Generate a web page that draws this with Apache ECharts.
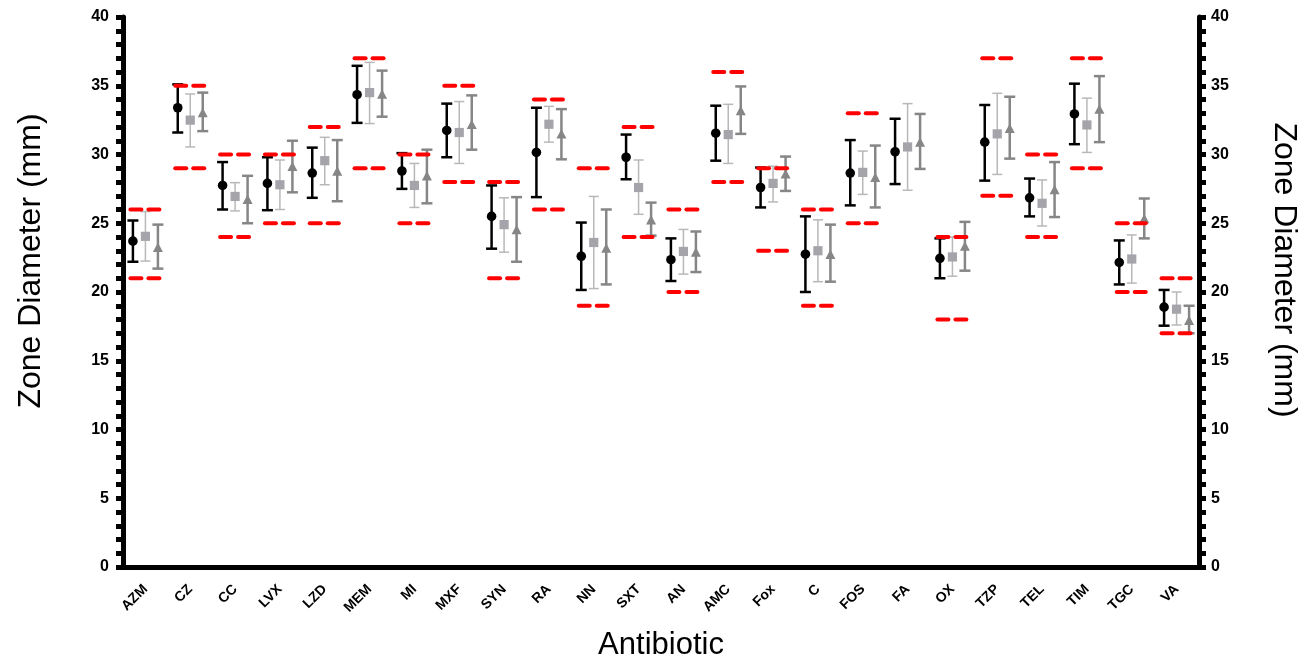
<!DOCTYPE html>
<html>
<head>
<meta charset="utf-8">
<script src="https://cdn.jsdelivr.net/npm/echarts@6/dist/echarts.min.js"></script>
<style>
  html, body { margin: 0; padding: 0; background: #fff; }
  #chart { width: 1308px; height: 666px; }
</style>
</head>
<body>
<div id="chart"></div>
<script type="text/javascript">
    var categories = ['AZM', 'CZ', 'CC', 'LVX', 'LZD', 'MEM', 'MI', 'MXF', 'SYN', 'RA', 'NN', 'SXT',
        'AN', 'AMC', 'Fox', 'C', 'FOS', 'FA', 'OX', 'TZP', 'TEL', 'TIM', 'TGC', 'VA'];

    // black circles: mean, lower, upper
    var blackMean = [23.7, 33.4, 27.75, 27.9, 28.65, 34.35, 28.8, 31.75, 25.5, 30.15, 22.6, 29.8,
        22.35, 31.55, 27.6, 22.75, 28.65, 30.2, 22.45, 30.9, 26.85, 32.95, 22.15, 18.9];
    var blackLow = [22.2, 31.6, 26.0, 25.95, 26.85, 32.3, 27.5, 29.8, 23.15, 26.9, 20.15, 28.2,
        20.8, 29.55, 26.15, 20.0, 26.3, 27.85, 21.0, 28.1, 25.5, 30.75, 20.55, 17.55];
    var blackHigh = [25.2, 35.1, 29.45, 29.8, 30.5, 36.45, 30.1, 33.7, 27.75, 33.4, 25.05, 31.45,
        23.9, 33.55, 29.05, 25.5, 31.05, 32.6, 23.9, 33.6, 28.25, 35.15, 23.75, 20.15];

    // light grey squares
    var squareMean = [24.05, 32.5, 26.95, 27.8, 29.55, 34.5, 27.75, 31.6, 24.9, 32.2, 23.6, 27.6,
        22.95, 31.45, 27.9, 23.0, 28.7, 30.55, 22.55, 31.5, 26.45, 32.15, 22.4, 18.75];
    var squareLow = [22.25, 30.55, 25.9, 26.0, 27.8, 32.25, 26.15, 29.35, 22.9, 30.9, 20.25, 25.65,
        21.3, 29.35, 26.55, 20.75, 27.1, 27.4, 21.15, 28.55, 24.8, 30.15, 20.65, 17.6];
    var squareHigh = [25.85, 34.4, 27.95, 29.6, 31.25, 36.7, 29.35, 33.85, 26.85, 33.5, 26.95, 29.6,
        24.55, 33.65, 29.15, 25.25, 30.25, 33.7, 24.0, 34.45, 28.15, 34.1, 24.15, 20.0];

    // dark grey triangles
    var triMean = [23.2, 33.0, 26.7, 29.1, 28.75, 34.35, 28.4, 32.15, 24.5, 31.45, 23.15, 25.2,
        22.85, 33.15, 28.55, 22.7, 28.3, 30.85, 23.3, 31.85, 27.4, 33.25, 25.3, 17.9];
    var triLow = [21.7, 31.7, 25.0, 27.25, 26.6, 32.75, 26.45, 30.35, 22.2, 29.65, 20.55, 24.1,
        21.45, 31.5, 27.35, 20.75, 26.15, 28.95, 21.55, 29.7, 25.45, 30.9, 23.9, 17.0];
    var triHigh = [24.9, 34.5, 28.45, 31.0, 31.05, 36.1, 30.35, 34.3, 26.9, 33.3, 26.0, 26.5,
        24.4, 34.95, 29.85, 24.9, 30.65, 32.95, 25.1, 34.2, 29.45, 35.7, 26.8, 19.0];

    // QC range (red dashes)
    var qcLow = [21, 29, 24, 25, 25, 29, 25, 28, 21, 26, 19, 24,
        20, 28, 23, 19, 25, null, 18, 27, 24, 29, 20, 17];
    var qcHigh = [26, 35, 30, 30, 32, 37, 30, 35, 28, 34, 29, 32,
        26, 36, 29, 26, 33, null, 24, 37, 30, 37, 25, 21];

    function rows(mean, low, high) {
        var out = [];
        for (var i = 0; i < mean.length; i++) {
            out.push([i, mean[i], low[i], high[i]]);
        }
        return out;
    }

    function errorSeries(name, data, offset, color, lineW, capW, symbol) {
        return {
            name: name,
            type: 'custom',
            data: data,
            encode: { x: 0, y: [1, 2, 3] },
            z: 3,
            renderItem: function (params, api) {
                var idx = api.value(0);
                var c = api.coord([idx, api.value(1)]);
                var lo = api.coord([idx, api.value(2)]);
                var hi = api.coord([idx, api.value(3)]);
                var x = c[0] + offset;
                var st = { stroke: color, lineWidth: lineW };
                var kids = [
                    { type: 'line', shape: { x1: x, y1: lo[1], x2: x, y2: hi[1] }, style: st },
                    { type: 'line', shape: { x1: x - capW / 2, y1: lo[1], x2: x + capW / 2, y2: lo[1] }, style: st },
                    { type: 'line', shape: { x1: x - capW / 2, y1: hi[1], x2: x + capW / 2, y2: hi[1] }, style: st }
                ];
                if (symbol.type === 'circle') {
                    kids.push({ type: 'circle', shape: { cx: x, cy: c[1], r: 4.8 }, style: { fill: symbol.fill } });
                } else if (symbol.type === 'rect') {
                    kids.push({ type: 'rect', shape: { x: x - 4.6, y: c[1] - 4.6, width: 9.2, height: 9.2 }, style: { fill: symbol.fill } });
                } else {
                    kids.push({ type: 'polygon', shape: { points: [[x, c[1] - 5.5], [x - 5, c[1] + 4], [x + 5, c[1] + 4]] }, style: { fill: symbol.fill } });
                }
                return { type: 'group', children: kids };
            }
        };
    }

    var qcData = [];
    for (var i = 0; i < categories.length; i++) {
        if (qcLow[i] != null) qcData.push([i, qcLow[i], qcHigh[i]]);
    }

    var fontFam = 'Arial, "Liberation Sans", sans-serif';

    function yAxisDef(pos) {
        return {
            type: 'value',
            position: pos,
            min: 0,
            max: 40,
            interval: 5,
            name: 'Zone Diameter (mm)',
            nameLocation: 'middle',
            nameGap: pos === 'left' ? 76 : 69,
            nameRotate: pos === 'left' ? 90 : -90,
            nameTextStyle: {
                fontFamily: fontFam, fontSize: 32, color: '#000',
                // titles sit a little above the axis centre in the original
                padding: pos === 'left' ? [0, 0, 0, 62] : [0, 44, 0, 0]
            },
            axisLine: { show: true, lineStyle: { color: '#000', width: 5 } },
            axisTick: { show: true, length: 7, lineStyle: { color: '#000', width: 5 } },
            minorTick: { show: true, splitNumber: 5, length: 7, lineStyle: { color: '#000', width: 5 } },
            splitLine: { show: false },
            axisLabel: { margin: pos === 'left' ? 14 : 12, fontFamily: fontFam, fontWeight: 'bold', fontSize: 16, color: '#000' }
        };
    }

    var option = {
        backgroundColor: '#fff',
        animation: false,
        grid: { left: 123, right: 104, top: 17, bottom: 97 },
        xAxis: {
            type: 'category',
            data: categories,
            boundaryGap: true,
            name: 'Antibiotic',
            nameLocation: 'middle',
            nameGap: 63,
            nameTextStyle: { fontFamily: fontFam, fontSize: 31, color: '#000' },
            axisLine: { lineStyle: { color: '#000', width: 5 } },
            axisTick: { alignWithLabel: true, length: 9, lineStyle: { color: '#000', width: 5 } },
            axisLabel: { rotate: 45, margin: 20, interval: 0, fontFamily: fontFam, fontWeight: 'bold', fontSize: 14, color: '#000' }
        },
        yAxis: [yAxisDef('left'), yAxisDef('right')],
        series: [
            errorSeries('black', rows(blackMean, blackLow, blackHigh), -12.5, '#000', 2.5, 11, { type: 'circle', fill: '#000' }),
            errorSeries('square', rows(squareMean, squareLow, squareHigh), 0, '#b8b8b8', 1.5, 10, { type: 'rect', fill: '#a4a4aa' }),
            errorSeries('triangle', rows(triMean, triLow, triHigh), 12.5, '#868686', 2.5, 11, { type: 'triangle', fill: '#868686' }),
            {
                name: 'QC',
                type: 'custom',
                data: qcData,
                encode: { x: 0, y: [1, 2] },
                z: 5,
                renderItem: function (params, api) {
                    var idx = api.value(0);
                    var lo = api.coord([idx, api.value(1)]);
                    var hi = api.coord([idx, api.value(2)]);
                    var cx = lo[0];
                    var st = { stroke: '#ff0000', lineWidth: 4, lineCap: 'round' };
                    var kids = [];
                    [lo[1], hi[1]].forEach(function (y) {
                        kids.push({ type: 'line', shape: { x1: cx - 15, y1: y, x2: cx - 4, y2: y }, style: st });
                        kids.push({ type: 'line', shape: { x1: cx + 3, y1: y, x2: cx + 14, y2: y }, style: st });
                    });
                    return { type: 'group', children: kids };
                }
            }
        ]
    };

    var chart = echarts.init(document.getElementById('chart'));
    chart.setOption(option);
</script>
</body>
</html>
